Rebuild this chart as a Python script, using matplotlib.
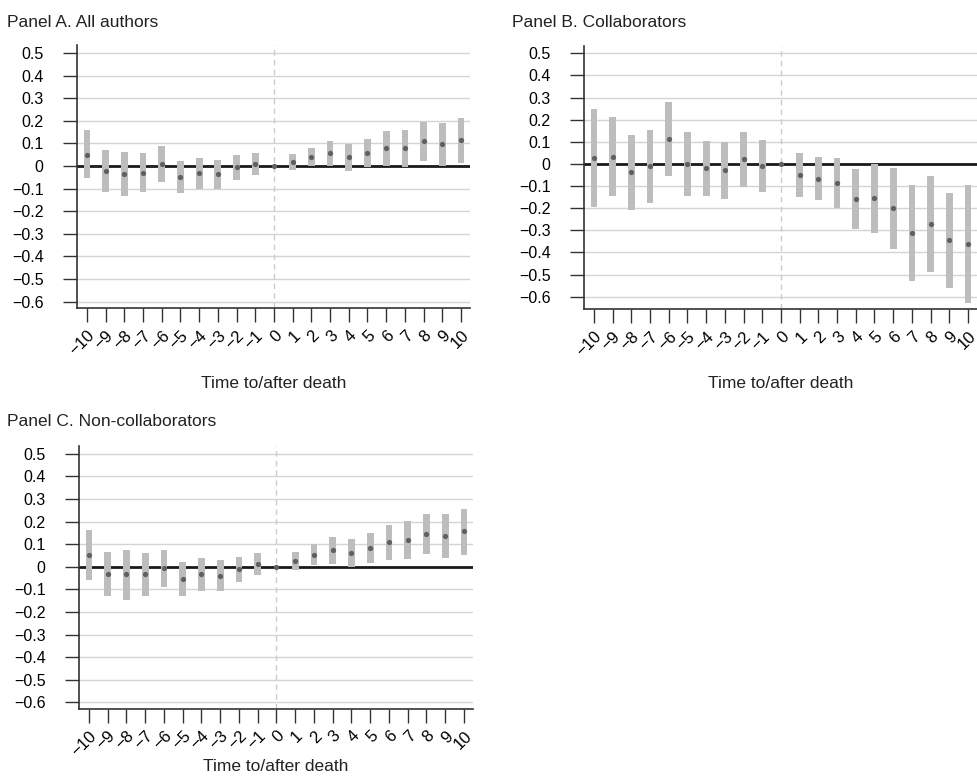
import numpy as np
import matplotlib
matplotlib.use('Agg')
import matplotlib.pyplot as plt

plt.rcParams['font.family'] = ['Liberation Sans', 'DejaVu Sans']

# 데이터
years = list(range(-10, 11))
xtick_labels = ['−10', '−9', '−8', '−7', '−6', '−5', '−4', '−3', '−2', '−1',
                '0', '1', '2', '3', '4', '5', '6', '7', '8', '9', '10']
ytick_vals = [0.5, 0.4, 0.3, 0.2, 0.1, 0, -0.1, -0.2, -0.3, -0.4, -0.5, -0.6]
ytick_labels = ['0.5', '0.4', '0.3', '0.2', '0.1', '0', '−0.1', '−0.2', '−0.3', '−0.4', '−0.5', '−0.6']

# Panel A
a_est = [0.050, -0.022, -0.034, -0.030, 0.007, -0.047, -0.031, -0.037, -0.007, 0.010, 0.0,
         0.018, 0.038, 0.055, 0.038, 0.059, 0.078, 0.078, 0.109, 0.097, 0.115]
a_hi = [0.158, 0.069, 0.060, 0.056, 0.086, 0.022, 0.037, 0.025, 0.047, 0.058, 0.0,
        0.053, 0.080, 0.109, 0.096, 0.121, 0.155, 0.159, 0.195, 0.190, 0.214]
a_lo = [-0.053, -0.115, -0.133, -0.115, -0.071, -0.119, -0.100, -0.100, -0.063, -0.038, 0.0,
        -0.019, 0.000, 0.000, -0.022, -0.004, 0.000, -0.004, 0.022, 0.001, 0.013]

# Panel B
b_est = [0.029, 0.033, -0.038, -0.011, 0.111, -0.002, -0.020, -0.029, 0.021, -0.011, 0.0,
         -0.051, -0.066, -0.086, -0.160, -0.155, -0.200, -0.312, -0.270, -0.345, -0.361]
b_hi = [0.248, 0.212, 0.133, 0.154, 0.279, 0.145, 0.104, 0.101, 0.146, 0.107, 0.0,
        0.050, 0.030, 0.029, -0.021, 0.000, -0.017, -0.093, -0.053, -0.130, -0.095]
b_lo = [-0.193, -0.146, -0.208, -0.175, -0.054, -0.146, -0.143, -0.158, -0.105, -0.127, 0.0,
        -0.151, -0.163, -0.200, -0.295, -0.312, -0.386, -0.527, -0.489, -0.560, -0.627]

# Panel C
c_est = [0.054, -0.030, -0.034, -0.031, -0.007, -0.055, -0.033, -0.039, -0.012, 0.013, 0.0,
         0.027, 0.052, 0.073, 0.063, 0.085, 0.109, 0.118, 0.146, 0.136, 0.157]
c_hi = [0.163, 0.067, 0.073, 0.063, 0.076, 0.021, 0.040, 0.028, 0.045, 0.060, 0.0,
        0.067, 0.099, 0.131, 0.124, 0.149, 0.187, 0.201, 0.234, 0.234, 0.257]
c_lo = [-0.060, -0.128, -0.145, -0.128, -0.090, -0.131, -0.107, -0.109, -0.069, -0.036, 0.0,
        -0.013, 0.007, 0.012, 0.000, 0.018, 0.031, 0.034, 0.057, 0.039, 0.054]

W, H = 977, 778
fig = plt.figure(figsize=(W / 100, H / 100), dpi=100)


def panel(rect, est, lo, hi, ylim, xlim, title, title_xy, xlabel_y):
    ax = fig.add_axes(rect)
    est = np.array(est)
    lo = np.array(lo)
    hi = np.array(hi)
    x = np.array(years)
    for v in ytick_vals:
        if v != 0:
            ax.axhline(v, color='#d4d4d4', lw=1.0, zorder=0)
    ax.axvline(0, color='#cccccc', lw=1.0, ls=(0, (4, 3)), zorder=0)
    ax.axhline(0, color='#1a1a1a', lw=2.0, zorder=2)
    mask = hi - lo > 0
    ax.bar(x[mask], (hi - lo)[mask], bottom=lo[mask], width=0.36,
           color='#bdbdbd', zorder=3)
    ax.plot(x, est, 'o', ms=3.8, color='#606060', mec='none', zorder=4)
    ax.set_xlim(*xlim)
    ax.set_ylim(*ylim)
    ax.set_yticks(ytick_vals)
    ax.set_yticklabels(ytick_labels, fontsize=11.5)
    ax.set_xticks(years)
    ax.set_xticklabels(xtick_labels, fontsize=12, rotation=45,
                       ha='right', va='top', rotation_mode='anchor')
    ax.tick_params(axis='y', length=10, width=1.0, pad=14, color='#333333')
    ax.tick_params(axis='x', length=10, width=1.0, pad=4, color='#333333')
    for s in ['top', 'right']:
        ax.spines[s].set_visible(False)
    for s in ['left', 'bottom']:
        ax.spines[s].set_color('#333333')
        ax.spines[s].set_linewidth(1.2)
    fig.text(title_xy[0] / W, 1 - title_xy[1] / H, title, fontsize=12.5,
             va='baseline', ha='left', color='#222222')
    cx = rect[0] + rect[2] / 2
    fig.text(cx, 1 - xlabel_y / H, 'Time to/after death', fontsize=12.5,
             ha='center', va='center', color='#222222')
    return ax


panel([77 / W, 1 - 308.3 / H, 393 / W, 263.3 / H], a_est, a_lo, a_hi,
      (-0.63, 0.535), (-10.53, 10.48), 'Panel A. All authors', (7, 27), 383)
panel([584 / W, 1 - 309.3 / H, 393 / W, 263.3 / H], b_est, b_lo, b_hi,
      (-0.657, 0.533), (-10.53, 10.48), 'Panel B. Collaborators', (512, 27), 383)
panel([79 / W, 1 - 709 / H, 394 / W, 263 / H], c_est, c_lo, c_hi,
      (-0.63, 0.535), (-10.53, 10.48), 'Panel C. Non-collaborators', (7, 425.7), 766.7)

plt.savefig('out.png', dpi=100)
